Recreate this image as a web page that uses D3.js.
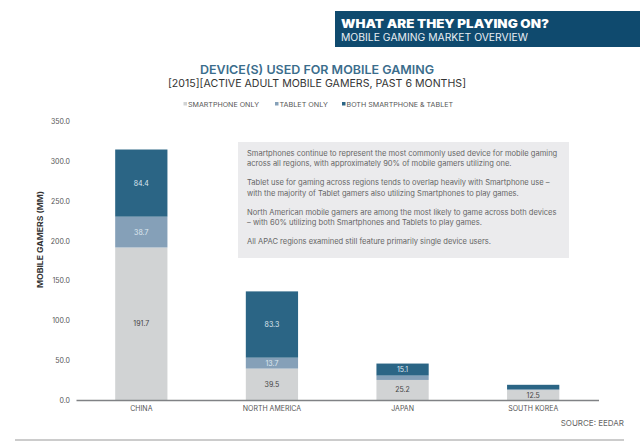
<!DOCTYPE html>
<html><head><meta charset="utf-8">
<script src="https://cdn.jsdelivr.net/npm/d3@7"></script>
<style>html,body{margin:0;padding:0;background:#fff}svg{display:block}text{font-family:Inter,"Noto Sans",sans-serif}</style>
</head><body><svg id="c" width="640" height="441"></svg>
<script>
const categories=["CHINA","NORTH AMERICA","JAPAN","SOUTH KOREA"];
const smartphoneOnly=[191.7,39.5,25.2,12.5];
const tabletOnly=[38.7,13.7,5.5,0.8];
const bothDevices=[84.4,83.3,15.1,5.8];
const seriesNames=["SMARTPHONE ONLY","TABLET ONLY","BOTH SMARTPHONE & TABLET"];
const seriesColors=["#d1d3d4","#85a0b8","#2b6585"];
const labelColors=["#444","#dfe8f0","#dfe8f0"];
const tickValues=[0,50,100,150,200,250,300,350];
const notes=[
 ["Smartphones continue to represent the most commonly used device for mobile gaming","across all regions, with approximately 90% of mobile gamers utilizing one."],
 ["Tablet use for gaming across regions tends to overlap heavily with Smartphone use –","with the majority of Tablet gamers also utilizing Smartphones to play games."],
 ["North American mobile gamers are among the most likely to game across both devices","– with 60% utilizing both Smartphones and Tablets to play games."],
 ["All APAC regions examined still feature primarily single device users."]];
const svg=d3.select("#c");
const fit=(s,w)=>s.attr("textLength",w).attr("lengthAdjust","spacingAndGlyphs");
// header
svg.append("rect").attr("x",335).attr("y",11).attr("width",305).attr("height",36).attr("fill","#0f4a6e");
fit(svg.append("text").attr("x",341).attr("y",28).attr("font-size",11.5).attr("font-weight",900).attr("fill","#fff").text("WHAT ARE THEY PLAYING ON?"),208);
fit(svg.append("text").attr("x",341).attr("y",40.5).attr("font-size",10).attr("fill","#e8eef3").text("MOBILE GAMING MARKET OVERVIEW"),187);
// titles
fit(svg.append("text").attr("x",317).attr("y",74).attr("text-anchor","middle").attr("font-size",12).attr("font-weight",600).attr("fill","#3b6d8c").text("DEVICE(S) USED FOR MOBILE GAMING"),234);
fit(svg.append("text").attr("x",317).attr("y",87).attr("text-anchor","middle").attr("font-size",10.5).attr("fill","#333").text("[2015][ACTIVE ADULT MOBILE GAMERS, PAST 6 MONTHS]"),298);
// legend
const legendX=[183.5,275,342],legendW=[71,48.5,106.5];
seriesNames.forEach((n,i)=>{
 svg.append("rect").attr("x",legendX[i]).attr("y",102).attr("width",3.5).attr("height",3.5).attr("fill",seriesColors[i]);
 fit(svg.append("text").attr("x",legendX[i]+4.5).attr("y",106.5).attr("font-size",6.5).attr("fill","#555").text(n),legendW[i]);
});
// scales
const x=d3.scaleBand().domain(categories).range([76,598.5]).paddingInner(0.6).paddingOuter(0.3);
const y=d3.scaleLinear().domain([0,350]).range([400,121.5]);
const table=categories.map((c,i)=>({c,s0:smartphoneOnly[i],s1:tabletOnly[i],s2:bothDevices[i]}));
const stack=d3.stack().keys(["s0","s1","s2"])(table);
// bars
stack.forEach((layer,k)=>{
 svg.append("g").selectAll("rect").data(layer).join("rect")
  .attr("x",d=>x(d.data.c)).attr("width",x.bandwidth())
  .attr("y",d=>y(d[1])).attr("height",d=>y(d[0])-y(d[1])).attr("fill",seriesColors[k]);
 svg.append("g").selectAll("text").data(layer.filter(d=>d[1]-d[0]>6)).join("text")
  .attr("x",d=>x(d.data.c)+x.bandwidth()/2).attr("y",d=>y((d[0]+d[1])/2)+2.5)
  .attr("text-anchor","middle").attr("font-size",7).attr("fill",labelColors[k])
  .text(d=>(d[1]-d[0]).toFixed(1));
});
// axes
const gy=svg.append("g").attr("transform","translate(70,0)").call(d3.axisLeft(y).tickValues(tickValues).tickFormat(d3.format(".1f")).tickSize(0).tickPadding(0));
gy.select(".domain").remove();
gy.selectAll("text").attr("font-size",7).attr("fill","#555").attr("font-family",'Inter,"Noto Sans",sans-serif');
const gx=svg.append("g").attr("transform","translate(0,400)").call(d3.axisBottom(x).tickSize(0).tickPadding(6));
gx.select(".domain").attr("stroke","#808285").attr("stroke-width",1.5);
gx.selectAll("text").attr("font-size",7).attr("fill","#555").attr("font-family",'Inter,"Noto Sans",sans-serif');
fit(svg.append("text").attr("transform","translate(42.5,239.5) rotate(-90)").attr("text-anchor","middle").attr("font-size",8).attr("font-weight",700).attr("fill","#333").text("MOBILE GAMERS (MM)"),97);
// note box
svg.append("rect").attr("x",238).attr("y",142).attr("width",331).attr("height",116).attr("fill","#ebebed");
let ly=156;
notes.forEach(p=>{p.forEach(l=>{
  svg.append("text").attr("x",247).attr("y",ly).attr("font-size",7.55).attr("fill","#666").text(l);
  ly+=10.2;
 });ly+=9;});
// source & footer
svg.append("text").attr("x",624).attr("y",426).attr("text-anchor","end").attr("font-size",8).attr("fill","#666").text("SOURCE: EEDAR");
svg.append("line").attr("x1",15).attr("x2",624).attr("y1",440).attr("y2",440).attr("stroke","#999").attr("stroke-width",1);
</script></body></html>
